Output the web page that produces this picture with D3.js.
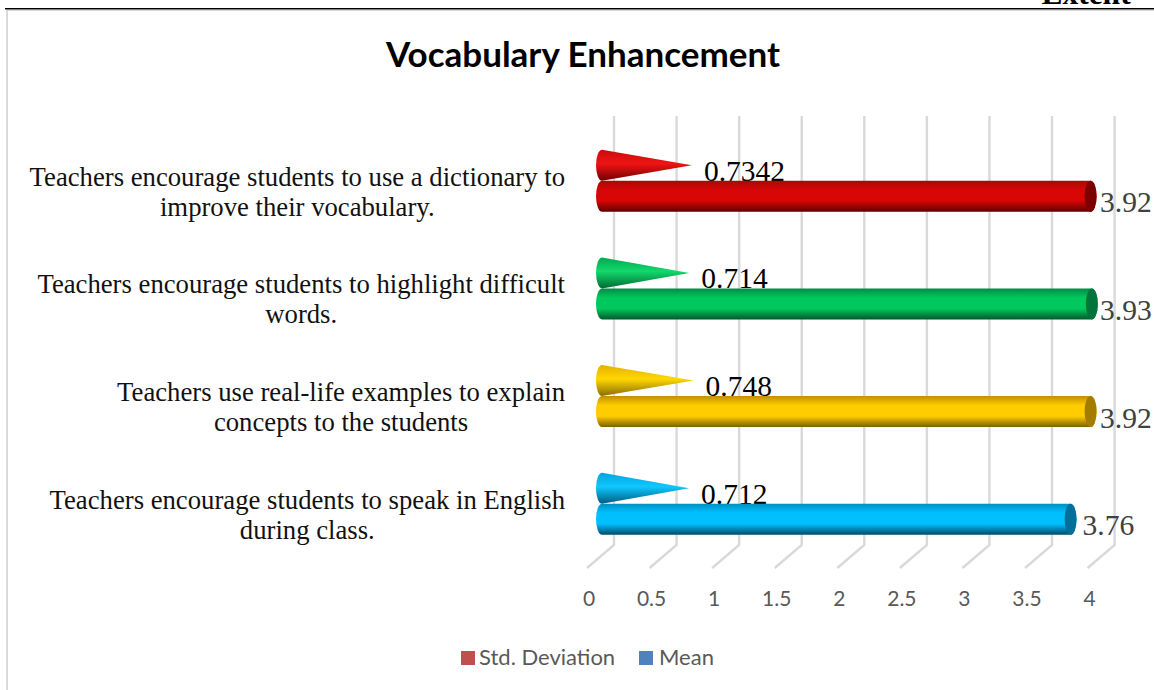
<!DOCTYPE html>
<html><head><meta charset="utf-8">
<script src="https://cdn.jsdelivr.net/npm/d3@7"></script>
<style>html,body{margin:0;padding:0;background:#fff;overflow:hidden}svg{display:block}</style>
</head><body>
<script>
const title = "Vocabulary Enhancement";
const categoryLines = [
  ["Teachers encourage students to use a dictionary to", "improve their vocabulary."],
  ["Teachers encourage students to highlight difficult", "words."],
  ["Teachers use real-life examples to explain", "concepts to the students"],
  ["Teachers encourage students to speak in English", "during class."]
];
const meanValues = [3.92, 3.93, 3.92, 3.76];
const stdValues = [0.7342, 0.714, 0.748, 0.712];
const stdLabels = ["0.7342", "0.714", "0.748", "0.712"];
const tickValues = [0, 0.5, 1, 1.5, 2, 2.5, 3, 3.5, 4];
const legendNames = ["Std. Deviation", "Mean"];
const legendColors = ["#c0504d", "#4f81bd"];
const palette = [
  {edge:"#a80808", mid:"#d80606", low:"#5e0000", cap:"#7c0000", cone:"#f01414", coneTop:"#c80c0c", coneLow:"#700000"},
  {edge:"#008a46", mid:"#00c85c", low:"#005a2c", cap:"#00743a", cone:"#14d86c", coneTop:"#00a850", coneLow:"#006a34"},
  {edge:"#c09000", mid:"#ffcc00", low:"#7a6000", cap:"#a47c00", cone:"#ffd800", coneTop:"#e4b000", coneLow:"#8a6c00"},
  {edge:"#0090c0", mid:"#00c0ff", low:"#004a68", cap:"#00709a", cone:"#10c8ff", coneTop:"#00a4dc", coneLow:"#005c80"}
];

const W = 1154, H = 690;
const svg = d3.select("body").append("svg").attr("width", W).attr("height", H);
const x = d3.scaleLinear().domain([0, 4]).range([600, 1100.6]);
const y = d3.scaleBand().domain(d3.range(4)).range([142.4, 573]);
const cy = i => y(i) + y.bandwidth() / 2;
const barR = 15.5, capR = 6;
const serif = "'Liberation Serif','Times New Roman',serif";
const sans = "Lato,'Open Sans',sans-serif";

// Page frame and clipped heading
svg.append("text").attr("x", 1086).attr("y", 3.5).attr("text-anchor", "middle")
  .attr("font-family", serif).attr("font-weight", 700).attr("font-size", 31.5).attr("fill", "#000").text("Extent");
svg.append("rect").attr("x", 6).attr("y", 9).attr("width", W - 6).attr("height", 2).attr("fill", "#d9d9d9");
svg.append("rect").attr("x", 6).attr("y", 9).attr("width", 2).attr("height", H - 9).attr("fill", "#d9d9d9");
svg.append("rect").attr("x", 5).attr("y", 8).attr("width", W - 5).attr("height", 1.4).attr("fill", "#000");

svg.append("text").attr("x", 583).attr("y", 67).attr("text-anchor", "middle")
  .attr("font-family", sans).attr("font-weight", 700).attr("font-size", 35).attr("fill", "#000").text(title);

// Gradients
const defs = svg.append("defs");
palette.forEach((p, i) => {
  const bar = defs.append("linearGradient").attr("id", "bar" + i).attr("x1", 0).attr("x2", 0).attr("y1", 0).attr("y2", 1);
  [[0, p.edge], [0.3, p.mid], [0.65, p.mid], [1, p.low]].forEach(s => bar.append("stop").attr("offset", s[0]).attr("stop-color", s[1]));
  const cone = defs.append("linearGradient").attr("id", "cone" + i).attr("x1", 0).attr("x2", 0).attr("y1", 0).attr("y2", 1);
  [[0, p.coneTop], [0.45, p.cone], [1, p.coneLow]].forEach(s => cone.append("stop").attr("offset", s[0]).attr("stop-color", s[1]));
});

// Grid walls and floor
const grid = svg.append("g").attr("fill", "none").attr("stroke", "#d9d9d9").attr("stroke-width", 2.4);
grid.selectAll("path").data(tickValues).join("path")
  .attr("d", v => `M${x(v) + 14},116V545L${x(v) - 13},568`);

// Axis tick labels
svg.append("g").selectAll("text").data(tickValues).join("text")
  .attr("x", v => x(v) - 11).attr("y", 606).attr("text-anchor", "middle")
  .attr("font-family", sans).attr("font-size", 21).attr("fill", "#595959").text(v => v);

// Category labels: each block ends at the same right edge, its lines centred within the block
const cat = svg.append("g").attr("font-family", serif).attr("font-size", 26.7).attr("fill", "#111").attr("text-anchor", "middle");
const labelRight = 565;
categoryLines.forEach((lines, i) => {
  const nodes = lines.map((t, j) => cat.append("text").attr("y", cy(i) - 10.4 + j * 30).text(t));
  const w = d3.max(nodes, n => n.node().getComputedTextLength());
  nodes.forEach(n => n.attr("x", labelRight - w / 2));
});

// Std. deviation labels sit behind the bars
svg.append("g").selectAll("text").data(stdValues).join("text")
  .attr("x", v => x(v) + 12).attr("y", (v, i) => cy(i) - 15.5)
  .attr("font-family", serif).attr("font-size", 29.5).attr("fill", "#000").text((v, i) => stdLabels[i]);

// Std. deviation cones
const coneG = svg.append("g");
stdValues.forEach((v, i) => {
  const c = cy(i) - 31, x0 = x(0) + 2;
  coneG.append("path")
    .attr("d", `M${x0},${c - barR}A${capR},${barR} 0 0 0 ${x0},${c + barR}L${x(v)},${c}Z`)
    .attr("fill", `url(#cone${i})`);
});

// Mean bars
const barG = svg.append("g");
meanValues.forEach((v, i) => {
  const c = cy(i), x0 = x(0) + 2, x1 = x(v);
  barG.append("path")
    .attr("d", `M${x0},${c - barR}A${capR},${barR} 0 0 0 ${x0},${c + barR}H${x1}A${capR},${barR} 0 0 0 ${x1},${c - barR}Z`)
    .attr("fill", `url(#bar${i})`);
  barG.append("ellipse").attr("cx", x1).attr("cy", c).attr("rx", capR).attr("ry", barR).attr("fill", palette[i].cap);
});

// Mean labels
svg.append("g").selectAll("text").data(meanValues).join("text")
  .attr("x", v => Math.min(x(v) + 12, 1100)).attr("y", (v, i) => cy(i) + 16)
  .attr("font-family", serif).attr("font-size", 29.5).attr("fill", "#404040").text(v => v);

// Legend
const legendX = [461, 639], legendTextX = [479, 659];
const leg = svg.append("g");
legendNames.forEach((n, i) => {
  leg.append("rect").attr("x", legendX[i]).attr("y", 651).attr("width", 14).attr("height", 14).attr("fill", legendColors[i]);
  leg.append("text").attr("x", legendTextX[i]).attr("y", 665).attr("font-family", sans).attr("font-size", 22).attr("fill", "#595959").text(n);
});
</script>
</body></html>
